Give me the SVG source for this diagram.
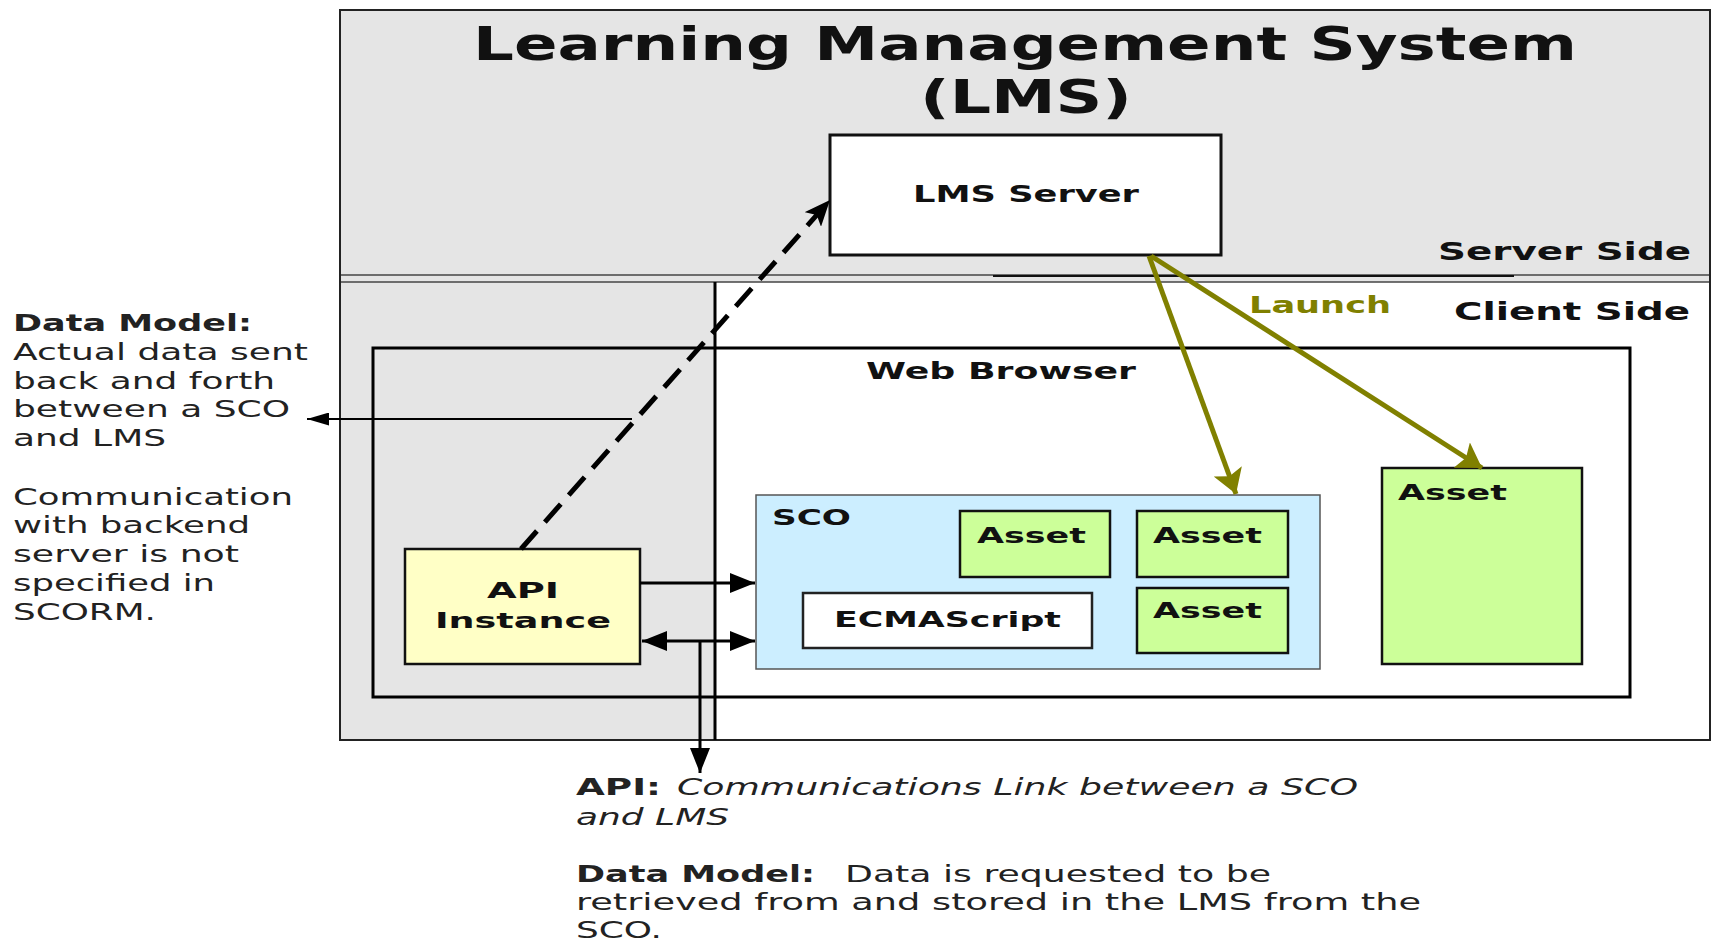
<svg xmlns="http://www.w3.org/2000/svg" width="1713" height="945" viewBox="0 0 1713 945">
<style>
  text { font-family: "DejaVu Sans", Verdana, "Liberation Sans", sans-serif; fill: #111; }
  .b { font-weight: bold; }
  .i { font-style: italic; }
  .note { font-size: 23px; fill: #222; }
  .lbl { font-size: 22px; font-weight: bold; }
  .asset { fill: #ccff99; stroke: #111; stroke-width: 2.5; }
  .gray { fill: #e5e5e5; }
  .conn { stroke: #000; stroke-width: 3; fill: none; }
  .launch { stroke: #808000; stroke-width: 5; fill: none; }
</style>
<defs>
  <marker id="ah" markerUnits="userSpaceOnUse" viewBox="0 0 25 20" refX="25" refY="10" markerWidth="25" markerHeight="20" orient="auto-start-reverse">
    <path d="M0,0 L25,10 L0,20 Z" fill="#000"/>
  </marker>
  <marker id="ahs" markerUnits="userSpaceOnUse" viewBox="0 0 22 13" refX="22" refY="6.5" markerWidth="22" markerHeight="13" orient="auto-start-reverse">
    <path d="M0,0 L22,6.5 L0,13 Z" fill="#000"/>
  </marker>
  <marker id="ahd" markerUnits="userSpaceOnUse" viewBox="0 0 26 22" refX="26" refY="11" markerWidth="26" markerHeight="22" orient="auto">
    <path d="M0,0 L26,11 L0,22 L6,11 Z" fill="#000"/>
  </marker>
  <marker id="aho" markerUnits="userSpaceOnUse" viewBox="0 0 24 30" refX="24" refY="15" markerWidth="24" markerHeight="30" orient="auto">
    <path d="M0,0 L24,15 L0,30 L5,15 Z" fill="#808000"/>
  </marker>
</defs>

<g id="lms">
  <rect x="340" y="10" width="1370" height="730" fill="#fff" stroke="#222" stroke-width="2"/>
  <rect class="gray" x="341" y="11" width="1368" height="271"/>
  <rect class="gray" x="341" y="282" width="374" height="457"/>
  <line x1="341" y1="275" x2="1709" y2="275" stroke="#444" stroke-width="1.5"/>
  <line x1="341" y1="282" x2="1709" y2="282" stroke="#444" stroke-width="1.5"/>
  <line x1="993" y1="276" x2="1514" y2="276" stroke="#111" stroke-width="2"/>
  <line x1="715" y1="282" x2="715" y2="740" stroke="#000" stroke-width="3"/>
  <text class="b" x="473" y="60" font-size="46" textLength="1104" lengthAdjust="spacingAndGlyphs">Learning Management System</text>
  <text class="b" x="920" y="113" font-size="46" textLength="212" lengthAdjust="spacingAndGlyphs">(LMS)</text>
  <text class="b" x="1438" y="260" font-size="24" textLength="253" lengthAdjust="spacingAndGlyphs">Server Side</text>
  <text class="b" x="1454" y="320" font-size="24" textLength="236" lengthAdjust="spacingAndGlyphs">Client Side</text>
</g>

<g id="lms-server">
  <rect x="830" y="135" width="391" height="120" fill="#fff" stroke="#111" stroke-width="3"/>
  <text class="b" x="913" y="202" font-size="23" textLength="226" lengthAdjust="spacingAndGlyphs">LMS Server</text>
</g>

<g id="web-browser">
  <rect x="373" y="348" width="1257" height="349" fill="none" stroke="#000" stroke-width="3"/>
  <text class="b" x="866" y="379" font-size="23" textLength="270" lengthAdjust="spacingAndGlyphs">Web Browser</text>
</g>

<g id="sco">
  <rect x="756" y="495" width="564" height="174" fill="#cceeff" stroke="#555" stroke-width="1.5"/>
  <text class="lbl" x="772" y="525" textLength="79" lengthAdjust="spacingAndGlyphs">SCO</text>
</g>

<g id="asset-1">
  <rect class="asset" x="960" y="511" width="150" height="66"/>
  <text class="lbl" x="977" y="543" textLength="109" lengthAdjust="spacingAndGlyphs">Asset</text>
</g>
<g id="asset-2">
  <rect class="asset" x="1137" y="511" width="151" height="66"/>
  <text class="lbl" x="1153" y="543" textLength="109" lengthAdjust="spacingAndGlyphs">Asset</text>
</g>
<g id="asset-3">
  <rect class="asset" x="1137" y="588" width="151" height="65"/>
  <text class="lbl" x="1153" y="618" textLength="109" lengthAdjust="spacingAndGlyphs">Asset</text>
</g>
<g id="ecmascript">
  <rect x="803" y="593" width="289" height="55" fill="#fff" stroke="#222" stroke-width="2.5"/>
  <text class="lbl" x="834" y="627" textLength="227" lengthAdjust="spacingAndGlyphs">ECMAScript</text>
</g>
<g id="asset-4">
  <rect class="asset" x="1382" y="468" width="200" height="196"/>
  <text class="lbl" x="1398" y="500" textLength="109" lengthAdjust="spacingAndGlyphs">Asset</text>
</g>

<g id="api-instance">
  <rect x="405" y="549" width="235" height="115" fill="#ffffc6" stroke="#111" stroke-width="2.5"/>
  <text class="lbl" x="487" y="598" textLength="72" lengthAdjust="spacingAndGlyphs">API</text>
  <text class="lbl" x="435" y="628" textLength="176" lengthAdjust="spacingAndGlyphs">Instance</text>
</g>

<g id="connectors">
  <line class="conn" x1="640" y1="583" x2="755" y2="583" marker-end="url(#ah)"/>
  <line class="conn" x1="642" y1="641" x2="755" y2="641" marker-start="url(#ah)" marker-end="url(#ah)"/>
  <line class="conn" x1="700" y1="641" x2="700" y2="773" marker-end="url(#ah)"/>
  <line x1="632" y1="419" x2="307" y2="419" stroke="#000" stroke-width="2" marker-end="url(#ahs)"/>
  <line x1="521" y1="549" x2="830" y2="200" stroke="#000" stroke-width="5" stroke-dasharray="24 12" marker-end="url(#ahd)"/>
  <line class="launch" x1="1149" y1="256" x2="1236" y2="494" marker-end="url(#aho)"/>
  <line class="launch" x1="1151" y1="256" x2="1482" y2="468" marker-end="url(#aho)"/>
  <text class="b" x="1249" y="313" font-size="23" style="fill:#808000" textLength="142" lengthAdjust="spacingAndGlyphs">Launch</text>
</g>

<g id="left-note">
  <text class="note b" x="13" y="331" textLength="239" lengthAdjust="spacingAndGlyphs">Data Model:</text>
  <text class="note" x="13" y="360" textLength="295" lengthAdjust="spacingAndGlyphs">Actual data sent</text>
  <text class="note" x="13" y="389" textLength="262" lengthAdjust="spacingAndGlyphs">back and forth</text>
  <text class="note" x="13" y="417" textLength="277" lengthAdjust="spacingAndGlyphs">between a SCO</text>
  <text class="note" x="13" y="446" textLength="153" lengthAdjust="spacingAndGlyphs">and LMS</text>
  <text class="note" x="13" y="505" textLength="280" lengthAdjust="spacingAndGlyphs">Communication</text>
  <text class="note" x="13" y="533" textLength="237" lengthAdjust="spacingAndGlyphs">with backend</text>
  <text class="note" x="13" y="562" textLength="226" lengthAdjust="spacingAndGlyphs">server is not</text>
  <text class="note" x="13" y="591" textLength="202" lengthAdjust="spacingAndGlyphs">specified in</text>
  <text class="note" x="13" y="620" textLength="143" lengthAdjust="spacingAndGlyphs">SCORM.</text>
</g>

<g id="bottom-note">
  <text class="note b" x="576" y="795" textLength="85" lengthAdjust="spacingAndGlyphs">API:</text>
  <text class="note i" x="677" y="795" textLength="681" lengthAdjust="spacingAndGlyphs">Communications Link between a SCO</text>
  <text class="note i" x="576" y="825" textLength="153" lengthAdjust="spacingAndGlyphs">and LMS</text>
  <text class="note b" x="576" y="882" textLength="239" lengthAdjust="spacingAndGlyphs">Data Model:</text>
  <text class="note" x="845" y="882" textLength="426" lengthAdjust="spacingAndGlyphs">Data is requested to be</text>
  <text class="note" x="576" y="910" textLength="845" lengthAdjust="spacingAndGlyphs">retrieved from and stored in the LMS from the</text>
  <text class="note" x="576" y="938" textLength="86" lengthAdjust="spacingAndGlyphs">SCO.</text>
</g>
</svg>
